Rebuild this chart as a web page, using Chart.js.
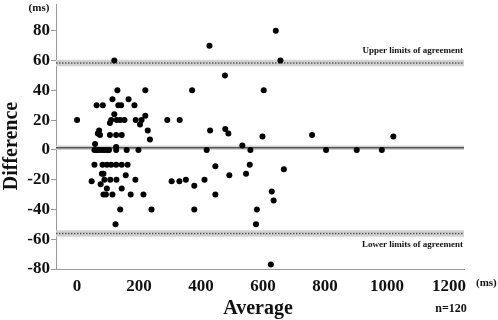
<!DOCTYPE html>
<html>
<head>
<meta charset="utf-8">
<script src="https://cdn.jsdelivr.net/npm/chart.js@4.4.1/dist/chart.umd.min.js"></script>
<style>
    html, body { margin: 0; padding: 0; background: #fff; }
    #wrap { width: 498px; height: 320px; position: relative; }
</style>
</head>
<body>
<div id="wrap"><canvas id="baChart"></canvas></div>
<script>
// averages (ms) and differences (ms) of each measurement pair
const avgValues = [
    120, 130, 220, 114, 166, 63, 83, 133, 142, 185, 120, 220,
    0, 110, 128, 139, 153, 189, 208, 106, 203, 71, 228, 67, 74, 106, 126, 144,
    235, 58, 126,
    56, 63, 71, 80, 88, 97, 103, 126, 160, 198,
    56, 82, 96, 110, 126, 144, 163,
    80, 85, 157, 47, 88, 107, 127, 188, 76, 96, 144,
    85, 93, 114, 173, 214, 139, 240, 124,
    427, 477, 371, 291, 331, 429, 478, 488, 533, 418, 559, 446, 557, 491, 545,
    305, 330, 351, 411, 378, 446, 378, 580, 577,
    641, 656, 602, 598, 758, 803, 902, 983, 1020, 667, 628, 634, 625
];
const diffValues = [
    60, 40, 40, 34, 34, 30, 30, 30, 30, 30, 24, 23,
    20, 20, 20, 20, 20, 20, 20, 18, 17, 13, 13, 11, 10, 10, 10, 10,
    7, 4, 2,
    0, 0, 0, 0, 0, 0, 0, 0, 0, 0,
    -10, -10, -10, -10, -10, -10, -10,
    -16, -16, -17, -21, -20, -20, -20, -20, -23, -26, -26,
    -30, -30, -30, -30, -30, -40, -40, -50,
    70, 50, 40, 20, 20, 13, 14, 11, 3, 0, 0, -11, -10, -17, -16,
    -21, -21, -20, -20, -24, -30, -40, -40, -50,
    80, 60, 40, 9, 10, 0, 0, 0, 9, -13, -28, -34, -77
];

// mean difference and limits of agreement
const meanDiff = 1.5;
const upperLimit = 58.3;
const lowerLimit = -56.2;

const xTicks = [0, 200, 400, 600, 800, 1000, 1200];
const yTicks = [-80, -60, -40, -20, 0, 20, 40, 60, 80];
const xMin = -68, xMax = 1248;
const yMin = -80, yMax = 98;

const serif = "'Liberation Serif', 'Times New Roman', serif";

const points = avgValues.map((x, i) => ({ x: x, y: diffValues[i] }));
const hline = (v) => [{ x: xMin, y: v }, { x: xMax, y: v }];

function lineSet(v, color, width, dash) {
    return {
        type: 'line',
        data: hline(v),
        borderColor: color,
        borderWidth: width,
        borderDash: dash || [],
        pointRadius: 0,
        showLine: true,
        fill: false
    };
}

const textPlugin = {
    id: 'texts',
    afterDraw(chart) {
        const ctx = chart.ctx;
        ctx.save();
        ctx.fillStyle = '#111';

        ctx.font = 'bold 20px ' + serif;
        ctx.textAlign = 'center';
        ctx.textBaseline = 'alphabetic';
        ctx.fillText('Average', 258, 314);

        ctx.save();
        ctx.translate(17, 146);
        ctx.rotate(-Math.PI / 2);
        ctx.fillText('Difference', 0, 0);
        ctx.restore();

        ctx.font = 'bold 11px ' + serif;
        ctx.textBaseline = 'middle';
        ctx.fillText('(ms)', 39, 8);
        ctx.textAlign = 'left';
        ctx.fillText('(ms)', 476, 283);
        ctx.font = 'bold 12px ' + serif;
        ctx.textAlign = 'center';
        ctx.fillText('n=120', 451, 309);

        ctx.font = 'bold 9px ' + serif;
        ctx.textAlign = 'right';
        ctx.fillText('Upper limits of agreement', 463, 51);
        ctx.fillText('Lower limits of agreement', 463, 245);
        ctx.restore();
    }
};

new Chart(document.getElementById('baChart'), {
    type: 'scatter',
    data: {
        datasets: [
            {
                data: points,
                backgroundColor: '#000',
                borderColor: '#000',
                pointRadius: 3,
                borderWidth: 0
            },
            lineSet(meanDiff, '#555', 1.5),
            lineSet(upperLimit, '#555', 1.5, [1.5, 1.5]),
            lineSet(lowerLimit, '#555', 1.5, [1.5, 1.5]),
            lineSet(meanDiff, '#d2d2d2', 4.5),
            lineSet(upperLimit, '#d2d2d2', 6.5),
            lineSet(lowerLimit, '#d2d2d2', 6.5)
        ]
    },
    options: {
        responsive: true,
        maintainAspectRatio: false,
        animation: false,
        layout: { padding: { left: 0, right: 34, top: 0, bottom: 0 } },
        plugins: {
            legend: { display: false },
            tooltip: { enabled: false }
        },
        scales: {
            x: {
                type: 'linear',
                min: xMin,
                max: xMax,
                afterBuildTicks: (scale) => { scale.ticks = xTicks.map(v => ({ value: v })); },
                afterFit: (scale) => { scale.height = 51; },
                grid: { display: false },
                border: { display: true, color: '#999', width: 1 },
                ticks: {
                    color: '#111',
                    padding: -1,
                    maxRotation: 0,
                    callback: (v) => String(v),
                    font: { family: serif, size: 17, weight: 'bold' }
                }
            },
            y: {
                min: yMin,
                max: yMax,
                afterBuildTicks: (scale) => { scale.ticks = yTicks.map(v => ({ value: v })); },
                // labels only sit on -80..80, so no half-label padding is needed at the top
                afterFit: (scale) => {
                    scale.width = 56;
                    scale.paddingTop = 0;
                    scale.paddingBottom = 0;
                },
                grid: {
                    display: true,
                    drawOnChartArea: false,
                    drawTicks: true,
                    tickLength: 5,
                    color: '#999'
                },
                border: { display: true, color: '#999', width: 1 },
                ticks: {
                    color: '#111',
                    padding: 1,
                    callback: (v) => String(v),
                    font: { family: serif, size: 17, weight: 'bold' }
                }
            }
        }
    },
    plugins: [textPlugin]
});
</script>
</body>
</html>
